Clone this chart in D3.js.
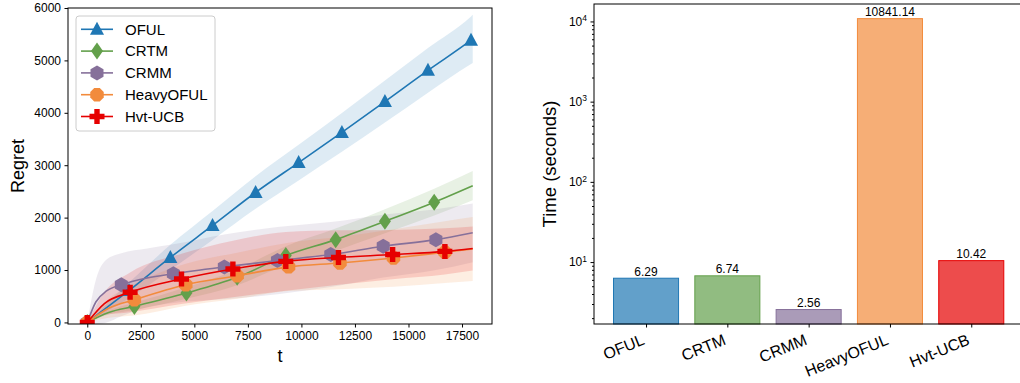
<!DOCTYPE html>
<html>
<head>
<meta charset="utf-8">
<script src="https://cdn.jsdelivr.net/npm/d3@7"></script>
<style>
  body { margin: 0; background: #fff; }
  svg { font-family: "Liberation Sans", Arial, sans-serif; }
  .axis path, .axis line { stroke: #000; }
  .axis text { fill: #000; }
</style>
</head>
<body>
<svg id="chart" width="1020" height="383"></svg>
<script>
// ---- regret curves (left panel) ----
const oful_t = [0, 1950, 3880, 5850, 7860, 9870, 11890, 13900, 15910, 17920, 18000];
const oful_mean = [0, 610, 1240, 1850, 2480, 3050, 3625, 4215, 4810, 5385, 5410];
const oful_spread = [0, 150, 240, 275, 310, 340, 370, 400, 425, 455, 460];
const oful_marks = [0, 1950, 3880, 5850, 7860, 9870, 11890, 13900, 15910, 17920];

const crtm_t = [0, 1000, 2200, 4630, 7000, 9270, 11600, 13900, 16200, 18000];
const crtm_mean = [0, 190, 306, 560, 860, 1275, 1580, 1930, 2295, 2610];
const crtm_spread = [0, 40, 70, 110, 150, 180, 210, 230, 255, 280];
const crtm_marks = [0, 2200, 4630, 7000, 9270, 11600, 13900, 16200];

const crmm_t = [0, 400, 900, 1590, 2800, 4020, 6400, 8880, 11370, 13820, 16280, 18000];
const crmm_mean = [0, 390, 600, 720, 850, 930, 1060, 1180, 1295, 1455, 1580, 1710];
const crmm_spread = [0, 420, 600, 600, 560, 560, 620, 640, 620, 600, 580, 560];
const crmm_marks = [0, 1590, 4020, 6400, 8880, 11370, 13820, 16280];

const heavy_t = [0, 1000, 2200, 4600, 7000, 9400, 11800, 14300, 16700, 18000];
const heavy_mean = [0, 270, 433, 720, 890, 1060, 1135, 1230, 1340, 1400];
const heavy_spread = [0, 180, 300, 400, 440, 460, 500, 550, 590, 610];
const heavy_marks = [0, 2200, 4600, 7000, 9400, 11800, 14300, 16700];

const hvt_t = [0, 800, 2000, 4400, 6800, 9270, 11730, 14260, 16700, 18000];
const hvt_mean = [0, 360, 575, 830, 1020, 1165, 1240, 1295, 1355, 1410];
const hvt_spread = [0, 220, 380, 480, 540, 560, 520, 470, 440, 420];
const hvt_marks = [0, 2000, 4400, 6800, 9270, 11730, 14260, 16700];

const xTicks = [0, 2500, 5000, 7500, 10000, 12500, 15000, 17500];
const yTicks = [0, 1000, 2000, 3000, 4000, 5000, 6000];

// ---- running time (right panel) ----
const methods = ['OFUL', 'CRTM', 'CRMM', 'HeavyOFUL', 'Hvt-UCB'];
const times = [6.29, 6.74, 2.56, 10841.14, 10.42];
const colors = ['#1f77b4', '#63a04b', '#86709a', '#f28b3c', '#e60000'];
const markerKinds = ['tri', 'diamond', 'hex', 'oct', 'plus'];

const series = [
  {t: oful_t, mean: oful_mean, spread: oful_spread, marks: oful_marks},
  {t: crtm_t, mean: crtm_mean, spread: crtm_spread, marks: crtm_marks},
  {t: crmm_t, mean: crmm_mean, spread: crmm_spread, marks: crmm_marks},
  {t: heavy_t, mean: heavy_mean, spread: heavy_spread, marks: heavy_marks},
  {t: hvt_t, mean: hvt_mean, spread: hvt_spread, marks: hvt_marks}
].map((s, i) => ({
  name: methods[i],
  color: colors[i],
  kind: markerKinds[i],
  pts: s.t.map((t, j) => ({t, v: s.mean[j], lo: s.mean[j] - s.spread[j], hi: s.mean[j] + s.spread[j], mark: s.marks.includes(t)}))
}));

const svg = d3.select('#chart');

function markerPath(kind) {
  if (kind === 'tri') return 'M0,-7.5L7,5.5L-7,5.5Z';
  if (kind === 'diamond') return 'M0,-8.5L6,0L0,8.5L-6,0Z';
  if (kind === 'hex') {
    return d3.range(6).map(k => {
      const a = Math.PI / 2 + k * Math.PI / 3;
      return (k ? 'L' : 'M') + (7.5 * Math.cos(a)).toFixed(2) + ',' + (-7.5 * Math.sin(a)).toFixed(2);
    }).join('') + 'Z';
  }
  if (kind === 'oct') {
    return d3.range(8).map(k => {
      const a = Math.PI / 8 + k * Math.PI / 4;
      return (k ? 'L' : 'M') + (7.3 * Math.cos(a)).toFixed(2) + ',' + (-7.3 * Math.sin(a)).toFixed(2);
    }).join('') + 'Z';
  }
  // filled plus
  const a = 7.5, b = 2.7;
  return `M${-b},${-a}H${b}V${-b}H${a}V${b}H${b}V${a}H${-b}V${b}H${-a}V${-b}H${-b}Z`;
}

// ================= left panel =================
const L = {left: 68, right: 492, top: 8, bottom: 324};
const x = d3.scaleLinear().domain([-900, 18900]).range([L.left, L.right]);
const y = d3.scaleLinear().domain([-30, 6000]).range([L.bottom, L.top]);

svg.append('clipPath').attr('id', 'clipL')
  .append('rect').attr('x', L.left).attr('y', L.top)
  .attr('width', L.right - L.left).attr('height', L.bottom - L.top);

const plotL = svg.append('g').attr('clip-path', 'url(#clipL)');

const area = d3.area().x(d => x(d.t)).y0(d => y(d.lo)).y1(d => y(d.hi)).curve(d3.curveMonotoneX);
const line = d3.line().x(d => x(d.t)).y(d => y(d.v)).curve(d3.curveMonotoneX);

// bands under everything
series.forEach(s => {
  plotL.append('path')
    .attr('d', area(s.pts))
    .attr('fill', s.color)
    .attr('fill-opacity', 0.15);
});

series.forEach(s => {
  plotL.append('path')
    .attr('d', line(s.pts))
    .attr('fill', 'none')
    .attr('stroke', s.color)
    .attr('stroke-width', 1.6);
  plotL.selectAll(null)
    .data(s.pts.filter(d => d.mark))
    .enter().append('path')
    .attr('d', markerPath(s.kind))
    .attr('transform', d => `translate(${x(d.t)},${y(d.v)})`)
    .attr('fill', s.color);
});

// frame
svg.append('rect')
  .attr('x', L.left).attr('y', L.top)
  .attr('width', L.right - L.left).attr('height', L.bottom - L.top)
  .attr('fill', 'none').attr('stroke', '#000').attr('stroke-width', 1);

const xAxisL = svg.append('g').attr('class', 'axis')
  .attr('transform', `translate(0,${L.bottom})`)
  .call(d3.axisBottom(x).tickValues(xTicks).tickSize(3.5).tickPadding(3.5).tickFormat(d3.format('d')));
const yAxisL = svg.append('g').attr('class', 'axis')
  .attr('transform', `translate(${L.left},0)`)
  .call(d3.axisLeft(y).tickValues(yTicks).tickSize(3.5).tickPadding(3.5).tickFormat(d3.format('d')));
[xAxisL, yAxisL].forEach(g => {
  g.select('.domain').remove();
  g.selectAll('text').attr('font-size', 12).attr('font-family', '"Liberation Sans", Arial, sans-serif');
});

svg.append('text')
  .attr('transform', `translate(24,${(L.top + L.bottom) / 2}) rotate(-90)`)
  .attr('text-anchor', 'middle')
  .attr('font-size', 18)
  .text('Regret');
svg.append('text')
  .attr('x', (L.left + L.right) / 2).attr('y', 362)
  .attr('text-anchor', 'middle')
  .attr('font-size', 18)
  .text('t');

// legend
const leg = svg.append('g').attr('transform', 'translate(76,16)');
leg.append('rect')
  .attr('width', 139).attr('height', 115)
  .attr('rx', 3)
  .attr('fill', '#fff').attr('fill-opacity', 0.8)
  .attr('stroke', '#cccccc').attr('stroke-width', 1);
series.forEach((s, i) => {
  const yy = 13.3 + i * 21.8;
  leg.append('line')
    .attr('x1', 5).attr('x2', 37).attr('y1', yy).attr('y2', yy)
    .attr('stroke', s.color).attr('stroke-width', 1.6);
  leg.append('path')
    .attr('d', markerPath(s.kind))
    .attr('transform', `translate(21,${yy})`)
    .attr('fill', s.color);
  leg.append('text')
    .attr('x', 49).attr('y', yy + 5.3)
    .attr('font-size', 15)
    .text(s.name);
});

// ================= right panel =================
const R = {left: 594, right: 1023.3, top: 4, bottom: 324};
const xb = d3.scaleLinear().domain([-0.64, 4.64]).range([R.left, R.right]);
const yb = d3.scaleLog().domain([1.69, 16500]).range([R.bottom, R.top]);
const barW = 0.8;

const bars = svg.append('g');
bars.selectAll('rect')
  .data(times)
  .enter().append('rect')
  .attr('x', (d, i) => xb(i - barW / 2))
  .attr('width', xb(barW) - xb(0))
  .attr('y', d => yb(d))
  .attr('height', d => R.bottom - yb(d))
  .attr('fill', (d, i) => colors[i])
  .attr('fill-opacity', 0.7)
  .attr('stroke', (d, i) => colors[i])
  .attr('stroke-width', 1);

bars.selectAll('text')
  .data(times)
  .enter().append('text')
  .attr('x', (d, i) => xb(i))
  .attr('y', d => yb(d) - 2.5)
  .attr('text-anchor', 'middle')
  .attr('font-size', 12)
  .text(d => d.toFixed(2));

// spines (right one falls outside the picture)
svg.append('rect')
  .attr('x', R.left).attr('y', R.top)
  .attr('width', R.right - R.left).attr('height', R.bottom - R.top)
  .attr('fill', 'none').attr('stroke', '#000').attr('stroke-width', 1);

const majors = [10, 100, 1000, 10000];
const minors = [];
[1, 10, 100, 1000].forEach(p => d3.range(2, 10).forEach(k => {
  const v = k * p;
  if (v > 1.69 && v < 16500) minors.push(v);
}));

const yAxisR = svg.append('g').attr('class', 'axis')
  .attr('transform', `translate(${R.left},0)`)
  .call(d3.axisLeft(yb).tickValues(majors).tickSize(3.5).tickPadding(3.5).tickFormat(() => ''));
yAxisR.select('.domain').remove();
yAxisR.selectAll('.tick text').each(function(d) {
  const t = d3.select(this).attr('font-size', 12).attr('dy', '0.32em');
  t.append('tspan').text('10');
  t.append('tspan').attr('font-size', 8.5).attr('dy', '-0.55em').text(Math.round(Math.log10(d)));
});
const yMinor = svg.append('g').attr('class', 'axis')
  .attr('transform', `translate(${R.left},0)`)
  .call(d3.axisLeft(yb).tickValues(minors).tickSize(2).tickFormat(() => ''));
yMinor.select('.domain').remove();

const xAxisR = svg.append('g').attr('class', 'axis')
  .attr('transform', `translate(0,${R.bottom})`)
  .call(d3.axisBottom(xb).tickValues(d3.range(methods.length)).tickSize(3.5).tickFormat(i => methods[i]));
xAxisR.select('.domain').remove();
xAxisR.selectAll('.tick text')
  .attr('font-size', 16)
  .attr('text-anchor', 'end')
  .attr('dy', 0)
  .attr('y', 0)
  .attr('transform', 'translate(-1,20) rotate(-22)');

svg.append('text')
  .attr('transform', `translate(556,${(R.top + R.bottom) / 2}) rotate(-90)`)
  .attr('text-anchor', 'middle')
  .attr('font-size', 18.5)
  .text('Time (seconds)');
</script>
</body>
</html>
